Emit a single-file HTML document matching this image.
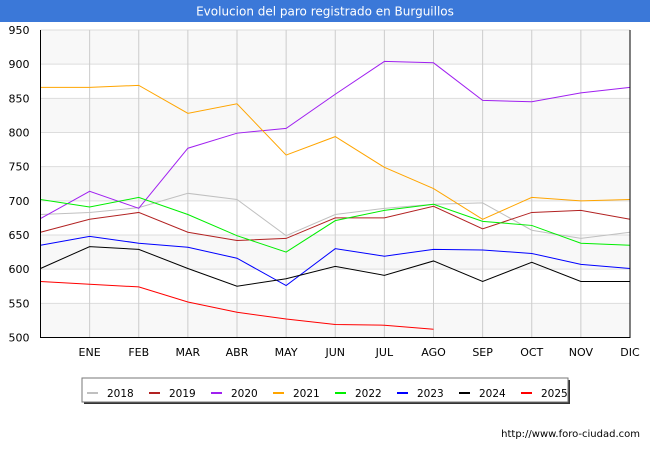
<!DOCTYPE html>
<html><head><meta charset="utf-8"><style>
body{margin:0;background:#fff;font-family:"Liberation Sans","DejaVu Sans",sans-serif}
#wrap{position:relative;width:650px;height:450px;overflow:hidden}
</style></head><body>
<div id="wrap">
<svg id="svg" width="650" height="450">
<rect x="0" y="0" width="650" height="22" fill="#3b78d8"/>
<text x="325" y="15.5" font-size="12" fill="#fff" text-anchor="middle" font-family="DejaVu Sans, sans-serif">Evolucion del paro registrado en Burguillos</text>
<g id="bands"></g><g id="grid"></g><g id="series"></g><g id="axes"></g>
<rect x="84" y="380" width="486" height="24" fill="#333"/>
<rect x="82" y="378" width="486" height="24" fill="#fff" stroke="#777"/>
<g id="legend"></g>
<text x="640" y="437" font-size="10" text-anchor="end" font-family="DejaVu Sans, sans-serif" fill="#000">http://www.foro-ciudad.com</text>
</svg>
</div>
<script>
const months=["","ENE","FEB","MAR","ABR","MAY","JUN","JUL","AGO","SEP","OCT","NOV","DIC"];
const yTicks=[500,550,600,650,700,750,800,850,900,950];
const years=["2018","2019","2020","2021","2022","2023","2024","2025"];
const colors=["#c0c0c0","#b22222","#a020f0","#ffa500","#00ee00","#0000ff","#000000","#ff0000"];
const s2018=[680,683,690,711,702,649,680,689,695,697,657,645,654];
const s2019=[654,673,683,654,642,645,675,675,692,659,683,686,673];
const s2020=[674,714,689,777,799,806,856,904,902,847,845,858,866];
const s2021=[866,866,869,828,842,767,794,749,718,673,705,700,702];
const s2022=[702,691,705,680,649,625,671,686,695,670,664,638,635];
const s2023=[635,648,638,632,616,576,630,619,629,628,623,607,601];
const s2024=[601,633,629,601,575,586,604,591,612,582,610,582,582];
const s2025=[582,578,574,552,537,527,519,518,512];
const series=[s2018,s2019,s2020,s2021,s2022,s2023,s2024,s2025];
const NS="http://www.w3.org/2000/svg";
const x0=40.5,x1=630,yTop=30,yBot=337.5,vMin=500,vMax=950;
const X=i=>x0+i*(x1-x0)/12;
const Y=v=>yBot-(v-vMin)*(yBot-yTop)/(vMax-vMin);
function mk(t,a,p){const e=document.createElementNS(NS,t);for(const k in a)e.setAttribute(k,a[k]);p.appendChild(e);return e;}
const bands=document.getElementById('bands'),grid=document.getElementById('grid'),ser=document.getElementById('series'),axes=document.getElementById('axes'),leg=document.getElementById('legend');
for(let k=0;k<yTicks.length-1;k++){
 const r=mk('rect',{x:x0,y:Y(yTicks[k+1]),width:x1-x0,height:Y(yTicks[k])-Y(yTicks[k+1]),fill:k%2==0?'#f8f8f8':'#ffffff'},bands);
 
 
}
yTicks.forEach(v=>{
 const l=mk('line',{x1:x0,x2:x1,y1:Y(v),y2:Y(v),stroke:'#ddd','stroke-width':1},grid);
 
 
 const t=mk('text',{x:x0-11,y:Y(v)+4,'font-size':11,'text-anchor':'end','font-family':'DejaVu Sans, sans-serif'},axes);
 t.textContent=v;
 
 
});
months.forEach((m,i)=>{
 if(i>0){const l=mk('line',{x1:X(i),x2:X(i),y1:yTop,y2:yBot,stroke:'#ccc','stroke-width':1},grid);
 
 }
 const t=mk('text',{x:X(i),y:356,'font-size':11,'text-anchor':'middle','font-family':'DejaVu Sans, sans-serif'},axes);
 t.textContent=m;
 
 
});
series.forEach((s,k)=>{
 const p=mk('polyline',{points:s.map((v,i)=>X(i)+','+Y(v)).join(' '),fill:'none',stroke:colors[k],'stroke-width':1},ser);
 
 
 const lx=87+k*62;
 const sw=mk('rect',{x:lx,y:392,width:11,height:2,fill:colors[k]},leg);
 
 
 const t=mk('text',{x:lx+20,y:397,'font-size':10.5,'font-family':'DejaVu Sans, sans-serif'},leg);
 t.textContent=years[k];
 
 
});
const ax=mk('polyline',{points:`${x0},${yTop} ${x0},${yBot} ${x1},${yBot} ${x1},${yTop}`,fill:'none',stroke:'#000','stroke-width':1},axes);


</script>
</body></html>
